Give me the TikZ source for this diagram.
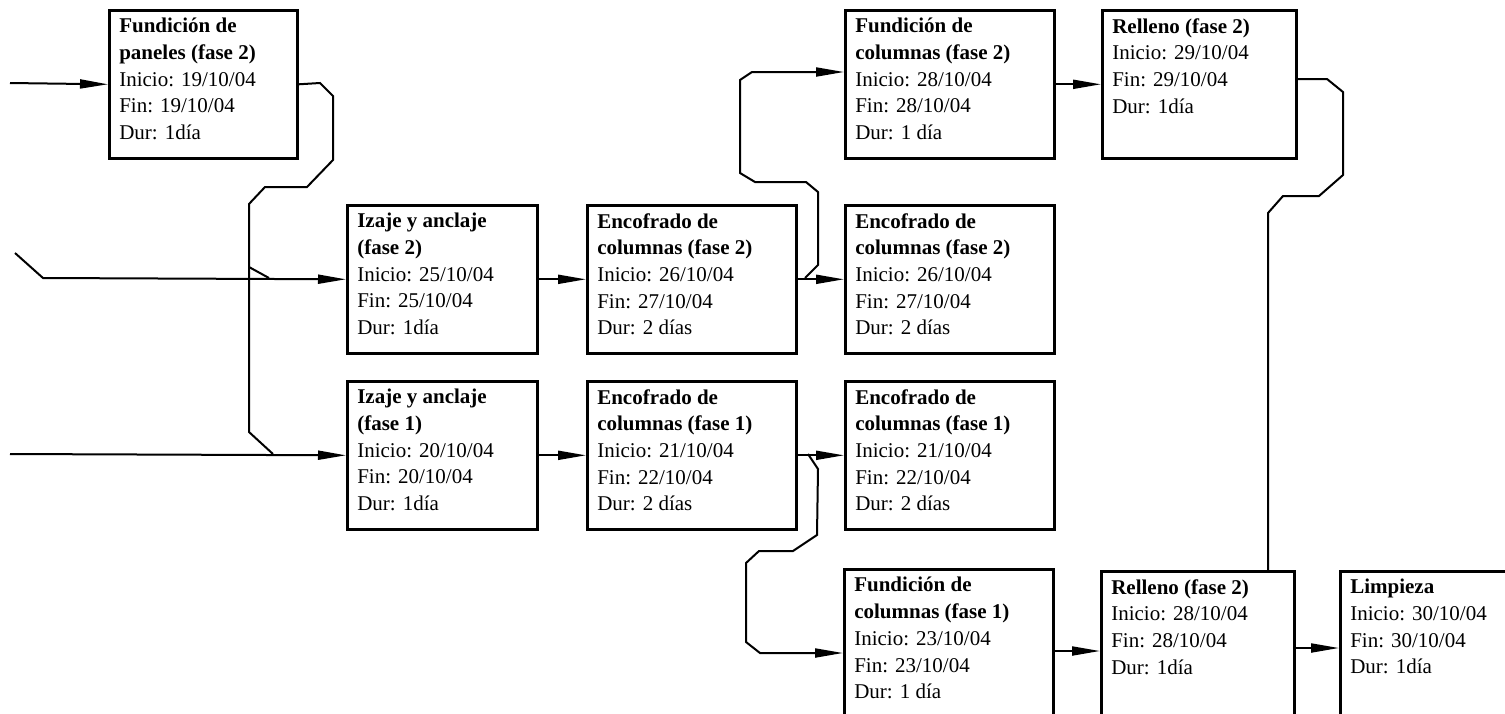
\documentclass[tikz,border=0pt]{standalone}
\usepackage{fontspec}
\setmainfont{Liberation Serif}
\usetikzlibrary{arrows.meta}

\newcommand{\caja}[2]{\parbox[t][66pt][t]{#1}{#2}}

\tikzset{
  flecha/.style={line width=1pt,-{Triangle[length=14pt,width=4.5pt]}},
  linea/.style={line width=1pt}
}

\begin{document}
\begin{tikzpicture}[x=0.5pt,y=-0.5pt]
\useasboundingbox (0,0) rectangle (1505,713);
\clip (0,0) rectangle (1505,713);

\begin{scope}[every node/.style={draw,line width=1.3pt,anchor=north west,inner xsep=5pt,inner ysep=4pt,font=\fontsize{10.5}{13.35}\selectfont}]
\node (fp2) at (108,9) {\caja{84pt}{\textbf{Fundición de\\paneles (fase 2)}\\Inicio: 19/10/04\\Fin: 19/10/04\\Dur: 1día}};

\node (iz2) at (346,204) {\caja{85pt}{\textbf{Izaje y anclaje\\(fase 2)}\\Inicio: 25/10/04\\Fin: 25/10/04\\Dur: 1día}};
\node (iz1) at (346,380) {\caja{85pt}{\textbf{Izaje y anclaje\\(fase 1)}\\Inicio: 20/10/04\\Fin: 20/10/04\\Dur: 1día}};

\node (ec2a) at (586,204) {\caja{94.5pt}{\textbf{Encofrado de\\columnas (fase 2)}\\Inicio: 26/10/04\\Fin: 27/10/04\\Dur: 2 días}};
\node (ec1a) at (586,380) {\caja{94.5pt}{\textbf{Encofrado de\\columnas (fase 1)}\\Inicio: 21/10/04\\Fin: 22/10/04\\Dur: 2 días}};

\node (fc2) at (844,9) {\caja{94.5pt}{\textbf{Fundición de\\columnas (fase 2)}\\Inicio: 28/10/04\\Fin: 28/10/04\\Dur: 1 día}};
\node (ec2b) at (844,204) {\caja{94.5pt}{\textbf{Encofrado de\\columnas (fase 2)}\\Inicio: 26/10/04\\Fin: 27/10/04\\Dur: 2 días}};
\node (ec1b) at (844,380) {\caja{94.5pt}{\textbf{Encofrado de\\columnas (fase 1)}\\Inicio: 21/10/04\\Fin: 22/10/04\\Dur: 2 días}};
\node (fc1) at (843,568) {\caja{94.5pt}{\textbf{Fundición de\\columnas (fase 1)}\\Inicio: 23/10/04\\Fin: 23/10/04\\Dur: 1 día}};

\node (rl2) at (1101,9) {\caja{87pt}{\textbf{Relleno (fase 2)}\\Inicio: 29/10/04\\Fin: 29/10/04\\Dur: 1día}};
\node (rl1) at (1100,570) {\caja{86.5pt}{\textbf{Relleno (fase 2)}\\Inicio: 28/10/04\\Fin: 28/10/04\\Dur: 1día}};
\node (lp) at (1339,570) {\caja{87pt}{\textbf{Limpieza}\\Inicio: 30/10/04\\Fin: 30/10/04\\Dur: 1día}};
\end{scope}

\coordinate (e1) at (10,83);
\coordinate (e2) at (15,253);
\coordinate (e3) at (10,454);
\coordinate (j1) at (273,454);
\coordinate (j2) at (269,278);
\coordinate (j3) at (805,278);
\coordinate (j4) at (808,454);

\draw[flecha] (e1) -- (fp2.west);
\draw[flecha] (e2) -- (43,278) -- (iz2.west);
\draw[flecha] (e3) -- (iz1.west);

\draw[linea] (fp2.east) -- (320,83) -- (333,96) -- (333,160) -- (307,187) -- (265,187) -- (249,204) -- (249,432) -- (j1);
\draw[linea] (249,267) -- (j2);

\draw[flecha] (iz2.east) -- (ec2a.west);
\draw[flecha] (iz1.east) -- (ec1a.west);
\draw[flecha] (ec2a.east) -- (ec2b.west);
\draw[flecha] (ec1a.east) -- (ec1b.west);

\draw[flecha] (j3) -- (818,265) -- (818,192) -- (806,182) -- (755,182) -- (740,173) -- (740,80) -- (752,72) -- (fc2.west |- 0,72);
\draw[flecha] (j4) -- (818,469) -- (817,535) -- (793,551) -- (759,551) -- (746,563) -- (746,642) -- (760,653) -- (fc1.west |- 0,653);

\draw[flecha] (fc2.east) -- (rl2.west);
\draw[flecha] (fc1.east |- 0,651) -- (rl1.west |- 0,651);
\draw[linea] (rl2.east |- 0,79) -- (1327,79) -- (1343,92) -- (1343,175) -- (1319,196) -- (1283,196) -- (1268,213) -- (rl1.north -| 1268,0);
\draw[flecha] (rl1.east |- 0,648) -- (lp.west |- 0,648);

\end{tikzpicture}
\end{document}
